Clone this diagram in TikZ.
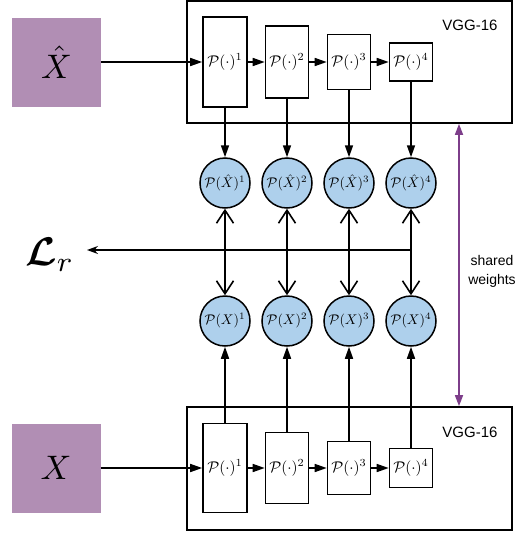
\documentclass[tikz,border=0pt]{standalone}
\usepackage{amsmath}
\usepackage{bm}
\usepackage{fontspec}
\newfontfamily\labelfont{Liberation Sans}
\usetikzlibrary{arrows.meta}
\definecolor{inputpurple}{RGB}{177,142,180}
\definecolor{circblue}{RGB}{174,208,236}
\definecolor{sharedpurple}{RGB}{125,62,138}
\newcommand{\lbig}[2]{\scalebox{#1}{$#2$}}
\tikzset{
  vggbox/.style={draw, line width=1.7pt, minimum width=325pt, minimum height=122pt, inner sep=0pt},
  layerbox/.style={draw, line width=1.6pt, minimum width=43pt, inner sep=0pt},
  inbox/.style={fill=inputpurple, minimum width=89pt, minimum height=89pt, inner sep=0pt},
  featcirc/.style={circle, draw, line width=1.5pt, fill=circblue, minimum size=50pt, inner sep=0pt},
  vgglabel/.style={font=\labelfont\fontsize{15}{18}\selectfont},
  flow/.style={line width=1.6pt, -{Triangle[length=12pt,width=8pt]}},
  cmp/.style={line width=1.6pt, {Straight Barb[length=13pt,width=17pt,line width=1.6pt]}-{Straight Barb[length=13pt,width=17pt,line width=1.6pt]}},
  lossline/.style={line width=1.2pt, -{Stealth[length=11pt,width=8pt]}},
  shared/.style={line width=1.6pt, draw=sharedpurple, {Triangle[length=11pt,width=8pt]}-{Triangle[length=11pt,width=8pt]}}
}
\begin{document}
\begin{tikzpicture}[x=1pt,y=-1pt]
\useasboundingbox (0,0) rectangle (519,536);

% outer VGG boxes
\node[vggbox] (vggt) at (349.5,62) {};
\node[vggbox, minimum height=123pt] (vggb) at (349.5,468.5) {};
\node[vgglabel] (vgglt) at (470,25) {VGG-16};
\node[vgglabel] (vgglb) at (470,432) {VGG-16};

% inputs
\node[inbox] (xh) at (56.5,62) {\lbig{3.4}{\hat{X}}};
\node[inbox] (x) at (56,468) {\lbig{3.4}{X}};

% top layer boxes
\node[layerbox, minimum width=44pt, minimum height=90pt] (t1) at (225,62) {\lbig{1.55}{\mathcal{P}(\cdot)^1}};
\node[layerbox, minimum height=72pt] (t2) at (287,62) {\lbig{1.55}{\mathcal{P}(\cdot)^2}};
\node[layerbox, minimum height=55pt] (t3) at (349,62) {\lbig{1.55}{\mathcal{P}(\cdot)^3}};
\node[layerbox, minimum height=38pt] (t4) at (411,62) {\lbig{1.55}{\mathcal{P}(\cdot)^4}};

% bottom layer boxes
\node[layerbox, minimum width=44pt, minimum height=89pt] (b1) at (225,468) {\lbig{1.55}{\mathcal{P}(\cdot)^1}};
\node[layerbox, minimum height=71pt] (b2) at (287,468) {\lbig{1.55}{\mathcal{P}(\cdot)^2}};
\node[layerbox, minimum height=53pt] (b3) at (349,468) {\lbig{1.55}{\mathcal{P}(\cdot)^3}};
\node[layerbox, minimum height=39pt] (b4) at (411,468) {\lbig{1.55}{\mathcal{P}(\cdot)^4}};

% circles
\node[featcirc] (ct1) at (225,183) {\lbig{1.4}{\mathcal{P}(\hat{X})^1}};
\node[featcirc] (ct2) at (287,183) {\lbig{1.4}{\mathcal{P}(\hat{X})^2}};
\node[featcirc] (ct3) at (349,183) {\lbig{1.4}{\mathcal{P}(\hat{X})^3}};
\node[featcirc] (ct4) at (411,183) {\lbig{1.4}{\mathcal{P}(\hat{X})^4}};
\node[featcirc] (cb1) at (225,321) {\lbig{1.4}{\mathcal{P}(X)^1}};
\node[featcirc] (cb2) at (287,321) {\lbig{1.4}{\mathcal{P}(X)^2}};
\node[featcirc] (cb3) at (349,321) {\lbig{1.4}{\mathcal{P}(X)^3}};
\node[featcirc] (cb4) at (411,321) {\lbig{1.4}{\mathcal{P}(X)^4}};

% input arrows and chains
\draw[flow] (xh.east) -- (xh.east -| t1.west);
\draw[flow] (x.east) -- (x.east -| b1.west);
\draw[flow] (t1) -- (t2);
\draw[flow] (t2) -- (t3);
\draw[flow] (t3) -- (t4);
\draw[flow] (b1) -- (b2);
\draw[flow] (b2) -- (b3);
\draw[flow] (b3) -- (b4);

% boxes to circles
\foreach \i in {1,2,3,4}{
  \draw[flow] (t\i.south) -- (ct\i.north);
  \draw[flow] (b\i.north) -- (cb\i.south);
  \draw[cmp] (ct\i.south) -- (cb\i.north);
}

% loss
\node[anchor=base west, inner sep=0pt] (lr) at (25,265) {\lbig{4}{\bm{\mathcal{L}}_{r}}};
\coordinate (junc) at (411,250);
\coordinate (lrtip) at (87,250);
\draw[lossline] (junc) -- (lrtip);

% shared weights
\coordinate (sx) at (459,0);
\draw[shared] (vggt.south -| sx) -- (vggb.north -| sx);
\node[vgglabel, align=center, font=\labelfont\fontsize{14}{19}\selectfont] (sw) at (492,271) {shared\\weights};
\end{tikzpicture}
\end{document}
